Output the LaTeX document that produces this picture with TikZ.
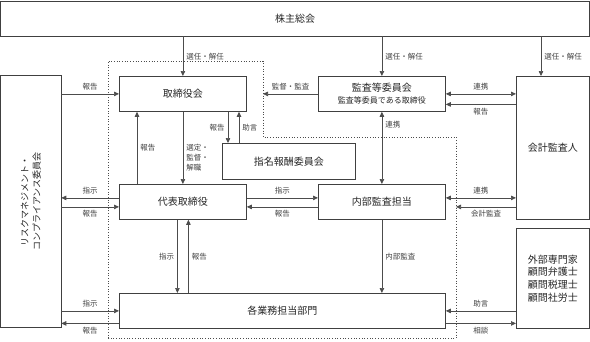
\documentclass[tikz,border=0pt]{standalone}
\usepackage{fontspec}
\setmainfont{Noto Sans CJK JP}
\usetikzlibrary{arrows.meta,calc}

\begin{document}
\begin{tikzpicture}[x=1pt,y=-1pt,>={Triangle[length=5pt,width=4.5pt]},
  box/.style={draw=black!75, line width=0.8pt, anchor=north west, inner sep=0pt,
    font=\fontsize{10}{12}\selectfont, text=black!85},
  link/.style={draw=black!70, line width=0.7pt},
  lbl/.style={font=\fontsize{7.5}{9}\selectfont, text=black!75, inner sep=3pt}]
  \useasboundingbox (0,0) rectangle (590,341);
  \node[box, minimum width=588.5pt, minimum height=35pt] (sh) at (0.5,0.5) {株主総会};
  \node[box, minimum width=127pt, minimum height=35pt] (board) at (119,76) {取締役会};
  \node[box, minimum width=127pt, minimum height=35pt, align=center] (audit) at (318,76)
    {監査等委員会\\{\fontsize{8}{9}\selectfont 監査等委員である取締役}};
  \node[box, minimum width=73pt, minimum height=143pt] (acct) at (516,76) {会計監査人};
  \node[box, minimum width=60pt, minimum height=252pt] (risk) at (0.5,75) {};
  \node[rotate=90, align=center, font=\fontsize{9}{12}\selectfont, text=black!85] (risktext)
    at (risk.center) {リスクマネジメント・\\コンプライアンス委員会};
  \node[box, minimum width=133pt, minimum height=36pt] (nom) at (222,143) {指名報酬委員会};
  \node[box, minimum width=127pt, minimum height=35pt] (rep) at (119,184) {代表取締役};
  \node[box, minimum width=127pt, minimum height=35pt] (ia) at (318,184) {内部監査担当};
  \node[box, minimum width=326pt, minimum height=35pt] (dept) at (119,293) {各業務担当部門};
  \node[box, minimum width=73pt, minimum height=100pt, align=center,
    font=\fontsize{10}{12.7}\selectfont] (ext) at (516,228)
    {外部専門家\\顧問弁護士\\顧問税理士\\顧問社労士};

  \coordinate (frameNE) at (263,61);
  \coordinate (frameSE) at (456,137);
  \draw[dotted, black!70, line width=0.7pt] (108.5,61) -- (frameNE) -- (263,137) -- (frameSE)
    -- (456,338) -- (108.5,338) -- cycle;

  \coordinate (acctin) at ($(acct.north west)+(25,0)$);
  \coordinate (nomin) at ($(nom.north west)+(6,0)$);
  \coordinate (nomout) at ($(nom.north west)+(17,0)$);

  \draw[link,->] (sh.south -| board.north) -- node[lbl,right] {選任・解任} (board.north);
  \draw[link,->] (sh.south -| audit.north) -- node[lbl,right] {選任・解任} (audit.north);
  \draw[link,->] (sh.south -| acctin) -- node[lbl,right] {選任・解任} (acctin);

  \draw[link,->] (risk.east |- board.west) -- node[lbl,above] {報告} (board.west);
  \draw[link,->] (audit.west) -- node[lbl,above] {監督・監査} (audit.west -| frameNE);
  \draw[link,<->] (audit.east) -- node[lbl,above] {連携} (audit.east -| acct.west);
  \draw[link,->] ($(acct.west |- audit.east)+(0,10.5)$) -- node[lbl,below] {報告} ($(audit.east)+(0,10.5)$);

  \draw[link,->] (board.south) -- node[lbl,right,pos=.64,align=left,
    font=\fontsize{7.5}{10}\selectfont] {選定・\\監督・\\解職} (rep.north);
  \draw[link,->] ($(rep.north west)+(18,0)$) -- node[lbl,right] {報告} ($(board.south west)+(18,0)$);
  \draw[link,->] (board.south -| nomin) -- node[lbl,left] {報告} (nomin);
  \draw[link,->] (nomout) -- node[lbl,right] {助言} (board.south -| nomout);

  \draw[link,->] ($(rep.west)+(0,-4)$) -- node[lbl,above] {指示} ($(risk.east |- rep.west)+(0,-4)$);
  \draw[link,->] ($(risk.east |- rep.west)+(0,5)$) -- node[lbl,below] {報告} ($(rep.west)+(0,5)$);
  \draw[link,->] ($(rep.east)+(0,-4)$) -- node[lbl,above] {指示} ($(ia.west)+(0,-4)$);
  \draw[link,->] ($(ia.west)+(0,5)$) -- node[lbl,below] {報告} ($(rep.east)+(0,5)$);

  \draw[link,<->] (audit.south) -- node[lbl,right,pos=.18] {連携} (ia.north);
  \draw[link,<->] ($(ia.east)+(0,-4)$) -- node[lbl,above] {連携} ($(acct.west |- ia.east)+(0,-4)$);
  \draw[link,->] ($(acct.west |- ia.east)+(0,5)$) -- node[lbl,below] {会計監査} ($(frameSE |- ia.east)+(0,5)$);

  \draw[link,->] ($(rep.south)+(-5.5,0)$) -- node[lbl,left] {指示} ($(dept.north -| rep.south)+(-5.5,0)$);
  \draw[link,->] ($(dept.north -| rep.south)+(5.5,0)$) -- node[lbl,right] {報告} ($(rep.south)+(5.5,0)$);
  \draw[link,->] (ia.south) -- node[lbl,right] {内部監査} (ia.south |- dept.north);

  \draw[link,->] (risk.east |- dept.west) -- node[lbl,above] {指示} (dept.west);
  \draw[link,->] ($(dept.west)+(0,12.5)$) -- node[lbl,below] {報告} ($(risk.east |- dept.west)+(0,12.5)$);
  \draw[link,->] (ext.west |- dept.east) -- node[lbl,above] {助言} (dept.east);
  \draw[link,->] ($(dept.east)+(0,12.5)$) -- node[lbl,below] {相談} ($(ext.west |- dept.east)+(0,12.5)$);
\end{tikzpicture}
\end{document}
